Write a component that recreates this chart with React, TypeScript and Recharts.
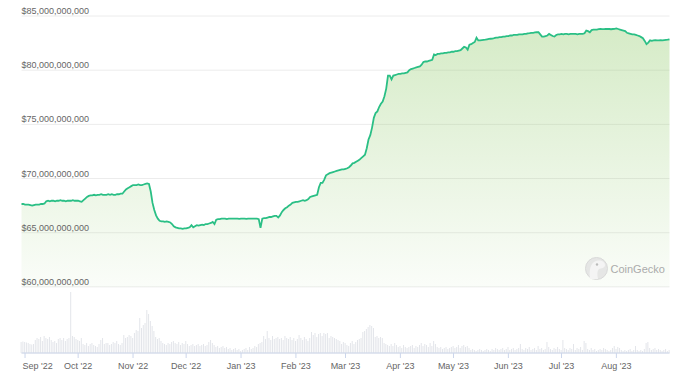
import { ComposedChart, Area, Bar, XAxis, YAxis, CartesianGrid } from 'recharts';

// daily series, first day 2022-08-30
const startDate = '2022-08-30';

const monthStarts = [
  '2022-09-01', '2022-10-01', '2022-11-01', '2022-12-01', '2023-01-01', '2023-02-01',
  '2023-03-01', '2023-04-01', '2023-05-01', '2023-06-01', '2023-07-01', '2023-08-01',
];
const monthLabels = [
  "Sep '22", "Oct '22", "Nov '22", "Dec '22", "Jan '23", "Feb '23",
  "Mar '23", "Apr '23", "May '23", "Jun '23", "Jul '23", "Aug '23",
];

// market cap in billions USD
const priceTicks = [60, 65, 70, 75, 80, 85];
const marketCap = [
  67.65, 67.65, 67.6, 67.6, 67.6, 67.55, 67.5, 67.55, 67.6, 67.6,
  67.6, 67.65, 67.65, 67.7, 67.9, 67.95, 67.9, 67.95, 67.95, 67.9,
  67.95, 67.95, 68.0, 67.95, 67.95, 67.9, 67.95, 67.95, 67.95, 68.0,
  67.95, 67.95, 67.95, 67.9, 67.85, 68.0, 68.15, 68.3, 68.4, 68.45,
  68.45, 68.5, 68.45, 68.5, 68.5, 68.55, 68.5, 68.5, 68.5, 68.55,
  68.5, 68.55, 68.5, 68.5, 68.55, 68.55, 68.6, 68.6, 68.8, 69.0,
  69.1, 69.2, 69.3, 69.4, 69.4, 69.4, 69.45, 69.4, 69.4, 69.45,
  69.5, 69.55, 69.5, 68.8, 67.75, 67.1, 66.6, 66.3, 66.1, 66.05,
  66.05, 66.0, 66.05, 66.0, 65.95, 65.8, 65.6, 65.5, 65.45, 65.4,
  65.4, 65.35, 65.4, 65.4, 65.45, 65.5, 65.7, 65.5, 65.6, 65.7,
  65.65, 65.7, 65.75, 65.7, 65.8, 65.8, 65.85, 65.9, 66.0, 65.8,
  66.2, 66.25, 66.25, 66.3, 66.3, 66.3, 66.25, 66.3, 66.3, 66.3,
  66.3, 66.3, 66.3, 66.28, 66.3, 66.3, 66.3, 66.28, 66.3, 66.3,
  66.3, 66.3, 66.3, 66.3, 66.25, 65.45, 66.3, 66.35, 66.35, 66.4,
  66.45, 66.45, 66.5, 66.55, 66.55, 66.4, 66.6, 66.9, 67.1, 67.25,
  67.35, 67.5, 67.6, 67.75, 67.8, 67.85, 67.85, 67.9, 67.95, 68.0,
  67.95, 68.0, 68.1, 68.3, 68.35, 68.4, 68.45, 68.5, 69.2, 69.6,
  69.6, 69.9, 70.3, 70.4, 70.5, 70.55, 70.6, 70.65, 70.7, 70.75,
  70.8, 70.85, 70.85, 70.9, 70.95, 71.05, 71.2, 71.4, 71.45, 71.55,
  71.65, 71.75, 71.9, 72.05, 72.2, 72.8, 73.6, 74.0, 74.7, 75.6,
  76.05, 76.2, 76.6, 76.9, 77.1, 77.6, 78.3, 79.5, 79.5, 79.15,
  79.5, 79.55, 79.6, 79.65, 79.65, 79.7, 79.7, 79.75, 79.8, 80.0,
  80.1, 80.15, 80.2, 80.25, 80.3, 80.35, 80.5, 80.75, 80.8, 80.8,
  80.85, 80.9, 80.95, 81.45, 81.4, 81.5, 81.5, 81.55, 81.55, 81.6,
  81.6, 81.65, 81.65, 81.7, 81.7, 81.75, 81.75, 81.8, 81.85, 82.0,
  82.15, 82.1, 81.9, 82.35, 82.4, 82.5, 82.6, 83.0, 82.75, 82.75,
  82.78, 82.8, 82.82, 82.85, 82.88, 82.9, 82.92, 82.95, 83.0, 83.0,
  83.05, 83.05, 83.1, 83.1, 83.15, 83.15, 83.2, 83.2, 83.25, 83.25,
  83.25, 83.3, 83.3, 83.3, 83.35, 83.35, 83.4, 83.42, 83.45, 83.45,
  83.48, 83.5, 83.5, 83.3, 83.1, 83.1, 83.15, 83.2, 83.35, 83.25,
  83.15, 83.1, 83.25, 83.3, 83.3, 83.35, 83.3, 83.35, 83.35, 83.3,
  83.35, 83.35, 83.35, 83.35, 83.3, 83.35, 83.35, 83.35, 83.4, 83.65,
  83.6, 83.5, 83.7, 83.75, 83.75, 83.75, 83.78, 83.8, 83.78, 83.78,
  83.8, 83.8, 83.8, 83.78, 83.8, 83.82, 83.85, 83.8, 83.75, 83.7,
  83.65, 83.6, 83.45, 83.4, 83.35, 83.3, 83.3, 83.25, 83.2, 83.15,
  83.05, 82.95, 82.7, 82.4, 82.55, 82.75, 82.7, 82.75, 82.78, 82.75,
  82.75, 82.78, 82.75, 82.78, 82.8, 82.82, 82.85,
];

// 24h volume in billions USD
const volume = [
  22, 23, 22, 21, 20, 18, 17, 18, 26, 30,
  28, 32, 24, 34, 30, 28, 32, 26, 22, 24,
  20, 28, 30, 26, 30, 24, 28, 30, 122, 34,
  32, 28, 26, 24, 30, 18, 16, 20, 14, 18,
  20, 16, 14, 12, 18, 26, 30, 18, 20, 20,
  16, 18, 22, 20, 24, 18, 16, 20, 36, 30,
  32, 36, 34, 30, 40, 46, 44, 70, 50, 56,
  60, 86, 78, 64, 54, 44, 32, 28, 30, 24,
  20, 18, 16, 20, 18, 22, 24, 20, 18, 22,
  16, 20, 18, 24, 18, 14, 16, 18, 14, 16,
  18, 14, 16, 18, 14, 16, 22, 26, 20, 16,
  12, 14, 10, 12, 14, 10, 12, 8, 10, 6,
  8, 10, 6, 8, 4, 6, 8, 10, 6, 12,
  8, 10, 14, 12, 18, 20, 22, 34, 28, 44,
  30, 26, 34, 28, 30, 32, 28, 30, 26, 34,
  30, 28, 32, 26, 30, 24, 28, 36, 30, 26,
  32, 28, 24, 30, 42, 36, 40, 32, 38, 40,
  34, 40, 38, 40, 30, 34, 32, 30, 28, 26,
  24, 18, 22, 20, 16, 14, 20, 24, 18, 22,
  26, 28, 30, 42, 44, 48, 52, 56, 54, 50,
  32, 34, 30, 32, 30, 20, 18, 16, 14, 18,
  14, 20, 16, 12, 14, 10, 16, 12, 10, 12,
  14, 16, 10, 14, 12, 16, 20, 14, 18, 16,
  12, 20, 14, 24, 18, 12, 10, 12, 8, 10,
  12, 8, 10, 12, 14, 10, 12, 16, 10, 14,
  16, 12, 14, 10, 6, 8, 6, 4, 6, 8,
  6, 4, 6, 8, 6, 4, 8, 6, 10, 8,
  6, 8, 10, 6, 8, 12, 6, 8, 10, 6,
  8, 10, 18, 8, 6, 10, 8, 12, 6, 8,
  10, 6, 14, 8, 10, 6, 8, 22, 12, 8,
  6, 10, 8, 12, 8, 6, 26, 10, 8, 6,
  10, 8, 18, 6, 10, 8, 12, 6, 24, 20,
  8, 6, 10, 6, 8, 4, 6, 8, 6, 10,
  8, 6, 4, 6, 10, 14, 8, 12, 10, 6,
  4, 6, 4, 6, 8, 4, 6, 14, 6, 4,
  6, 4, 8, 20, 22, 10, 6, 8, 10, 6,
  8, 6, 4, 6, 8, 4, 6,
];

const FONT = '"Liberation Sans", Arial, sans-serif';
const PLOT_LEFT = 21.5;

const dayOf = (d: string) => Math.round((Date.parse(d) - Date.parse(startDate)) / 86400000);
const monthTicks = monthStarts.map(dayOf);

const data = marketCap.map((cap, i) => ({ day: i, cap, vol: volume[i] }));

const renderPriceTick = (props: any) => {
  const { y, payload } = props;
  return (
    <text key={payload.value} x={PLOT_LEFT} y={y - 2} fill="#666666" fontSize={9} fontFamily={FONT} textAnchor="start">
      {'$' + (payload.value * 1e9).toLocaleString('en-US')}
    </text>
  );
};

// first label is pushed inside the plot, like the original
const renderMonthTick = (props: any) => {
  const { x, y, payload, index } = props;
  const first = index === 0;
  return (
    <text
      key={payload.value}
      x={first ? PLOT_LEFT + 1 : x}
      y={y + 8}
      fill="#666666"
      fontSize={9}
      fontFamily={FONT}
      textAnchor={first ? 'start' : 'middle'}
    >
      {monthLabels[monthTicks.indexOf(payload.value)]}
    </text>
  );
};

const Watermark = () => (
  <svg width={678} height={381} style={{ position: 'absolute', left: 0, top: 0, pointerEvents: 'none' }}>
    <g opacity={0.9}>
      <circle cx={596.5} cy={268.5} r={11} fill="#e4e4e4" stroke="#d6d6d6" strokeWidth={1} />
      <path d="M590 279 C589 271 590 263 596 261 C601 259.5 605 262 605 265 C605 268 601 268.5 599 269 C597 271 597 275 598 279 Z" fill="#f4f4f4" />
      <circle cx={597} cy={264.5} r={1.2} fill="#b5b5b5" />
    </g>
    <text x={610.5} y={269} dominantBaseline="central" fill="#ababab" fontSize={11} fontFamily={FONT}>
      CoinGecko
    </text>
  </svg>
);

export default function App() {
  return (
    <div style={{ position: 'absolute', left: 0, top: 0, width: 678, height: 381, background: '#fff' }}>
      <ComposedChart
        width={678}
        height={381}
        data={data}
        margin={{ top: 16, right: 8.5, bottom: 0, left: PLOT_LEFT - 1 }}
      >
        <defs>
          <linearGradient id="capFill" x1="0" y1="0" x2="0" y2="1">
            <stop offset="0%" stopColor="rgb(140,200,100)" stopOpacity={0.36} />
            <stop offset="100%" stopColor="rgb(140,200,100)" stopOpacity={0.04} />
          </linearGradient>
        </defs>
        <CartesianGrid vertical={false} stroke="#ececec" yAxisId="price" />
        <XAxis
          dataKey="day"
          type="number"
          domain={[0, marketCap.length - 1]}
          ticks={monthTicks}
          height={28}
          stroke="#ccd6eb"
          tickSize={5}
          tickMargin={3}
          tick={renderMonthTick}
          interval={0}
        />
        <YAxis
          yAxisId="price"
          domain={[53.9, 85]}
          ticks={priceTicks}
          width={1}
          axisLine={false}
          tickLine={false}
          tick={renderPriceTick}
          interval={0}
          allowDataOverflow
        />
        <YAxis yAxisId="vol" hide domain={[0, 674]} />
        <Bar yAxisId="vol" dataKey="vol" fill="#e3e5ea" barSize={1} isAnimationActive={false} />
        <Area
          yAxisId="price"
          type="linear"
          dataKey="cap"
          baseValue={60}
          stroke="#2abf85"
          strokeWidth={1.8}
          fill="url(#capFill)"
          fillOpacity={1}
          dot={false}
          activeDot={false}
          isAnimationActive={false}
        />
      </ComposedChart>
      <Watermark />
    </div>
  );
}
